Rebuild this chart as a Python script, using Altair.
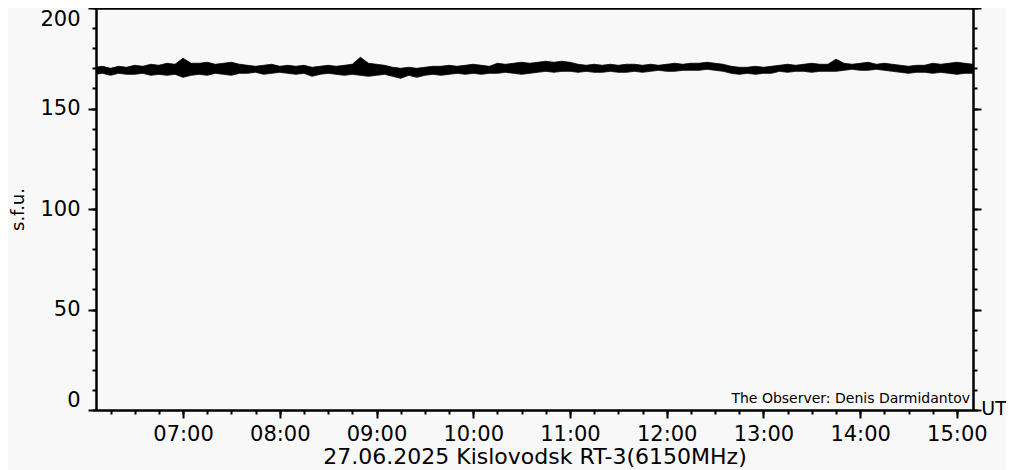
import altair as alt
import pandas as pd

# ---- data ----
# sample times, minutes after 00:00 UT (06:05 ... 15:10, every 5 minutes)
minutes = list(range(365, 911, 5))

# upper envelope of the noisy trace (s.f.u.)
upper = [
    170.5, 171, 170, 171, 170.5,
    171.5, 171, 172, 171.5,
    172.5, 172, 175, 172.5,
    172.5, 173, 172, 172.5, 173, 172,
    171.5, 171, 171.5, 172, 171, 171.5,
    171, 171.5, 170.5, 171, 171.5, 171,
    171.5, 172, 175.5, 172.5, 172, 171.5,
    170.5, 170, 170.5, 170, 170.5, 171, 171,
    171.5, 171, 171.5, 172, 171.5, 171,
    172.5, 172, 172.5, 173, 172.5, 173,
    173.5, 173, 173.5, 173,
    172, 171.5, 172, 171.5, 172, 171.5, 172, 172, 171.5,
    172, 171.5, 172, 172.5, 172, 172.5,
    172.5, 173, 172.5, 172,
    171, 170.5, 170.5, 171, 170.5, 171,
    171.5, 172, 171.5, 172, 172.5, 172, 172, 174.5,
    172.5, 172, 172.5, 173, 172, 172.5, 172,
    171.5, 171, 171.5, 171.5,
    172.5, 172, 172.5, 173, 172.5, 172,
]
# lower envelope of the noisy trace (s.f.u.)
lower = [
    167, 167.5, 166.5, 167.5, 167,
    167, 167.5, 166.5, 167,
    166.5, 167, 165.5, 166.5,
    167, 166.5, 167.5, 167, 166.5, 167.5,
    167.5, 168, 167, 167.5, 168, 167.5,
    167, 167.5, 166, 167, 167.5, 167,
    166.5, 167, 166.5, 166, 166.5, 167,
    166, 165, 166.5, 165.5, 166.5, 167, 166.5,
    167, 167.5, 167, 167.5, 167, 167.5,
    167.5, 168, 167.5, 167, 167.5, 168,
    168.5, 168, 168.5, 168.5,
    168, 168.5, 168, 168, 168.5, 168, 168, 168.5, 168,
    168.5, 169, 168.5, 168.5, 169, 169,
    169, 169.5, 169, 168.5,
    167.5, 167, 167.5, 167, 167.5, 167.5,
    168.5, 168, 168.5, 168.5, 168, 168.5, 168.5, 168.5,
    169, 169.5, 169, 169, 169.5, 169, 168.5,
    168, 167.5, 168, 168,
    167.5, 168, 167.5, 167, 167.5, 167.5,
]

x_major = [420, 480, 540, 600, 660, 720, 780, 840, 900]   # 07:00 ... 15:00
x_minor = list(range(375, 910, 15))                        # every 15 min
y_major = [0, 50, 100, 150, 200]
y_minor = list(range(0, 201, 10))

x_title = "27.06.2025 Kislovodsk RT-3(6150MHz)"
y_title = "s.f.u."
unit_label = ["UT"]
observer = ["The Observer: Denis Darmidantov"]

env = pd.DataFrame({"t": minutes, "hi": upper, "lo": lower})

FONT = "DejaVu Sans"
W, H = 877, 402

xs = alt.Scale(domain=[366, 910], nice=False, zero=False)
ys = alt.Scale(domain=[0, 200], nice=False, zero=True)

time_label = "pad(floor(datum.value / 60), 2, '0', 'left') + ':00'"

band = alt.Chart(env).mark_area(
    color="black", interpolate="linear", clip=True,
    stroke="black", strokeWidth=0.8
).encode(
    x=alt.X("t:Q", scale=xs, axis=alt.Axis(
        orient="bottom", values=x_major, tickSize=8, labelExpr=time_label,
        labelFontSize=21, labelPadding=5, title=x_title, titleFontSize=22,
        titleFontWeight="normal", titlePadding=2)),
    y=alt.Y("hi:Q", scale=ys, axis=alt.Axis(
        orient="left", values=y_major, tickSize=8, labelFlush=True,
        labelFontSize=21, labelPadding=8, title=y_title, titleFontSize=18,
        titleFontWeight="normal", titlePadding=12)),
    y2="lo:Q",
)


def ghost(x_axis, y_axis):
    return alt.Chart(env).mark_area(opacity=0).encode(
        x=alt.X("t:Q", scale=xs, axis=x_axis),
        y=alt.Y("hi:Q", scale=ys, axis=y_axis),
        y2="lo:Q",
    )


minor_lb = ghost(
    alt.Axis(orient="bottom", values=x_minor, tickSize=4, labels=False, title=None),
    alt.Axis(orient="left", values=y_minor, tickSize=4, labels=False, title=None),
)
major_tr = ghost(
    alt.Axis(orient="top", values=x_major, tickSize=8, labels=False, title=None),
    alt.Axis(orient="right", values=y_major, tickSize=8, labels=False, title=None),
)
minor_tr = ghost(
    alt.Axis(orient="top", values=x_minor, tickSize=4, labels=False, title=None),
    alt.Axis(orient="right", values=y_minor, tickSize=4, labels=False, title=None),
)

ut = alt.Chart(pd.DataFrame({"s": unit_label})).mark_text(
    font=FONT, fontSize=19, align="center", baseline="middle", color="black"
).encode(text="s:N", x=alt.value(W + 21), y=alt.value(H - 1))

obs = alt.Chart(pd.DataFrame({"s": observer})).mark_text(
    font=FONT, fontSize=14, align="right", baseline="alphabetic", color="black"
).encode(text="s:N", x=alt.value(W - 3), y=alt.value(H - 7))

chart = (
    alt.layer(band, minor_lb, major_tr, minor_tr, ut, obs)
    .resolve_axis(x="independent", y="independent")
    .properties(
        width=W, height=H, background="#f8f8f8",
        autosize=alt.AutoSizeParams(type="none"),
        padding={"left": 88, "top": 0, "right": 33, "bottom": 60},
    )
    .configure_view(stroke=None)
    .configure_axis(
        grid=False, domainColor="black", domainWidth=2, tickColor="black",
        tickWidth=2, labelColor="black", titleColor="black",
        labelFont=FONT, titleFont=FONT,
    )
)

chart.save("out.html", embed_options={"renderer": "svg", "actions": False})
